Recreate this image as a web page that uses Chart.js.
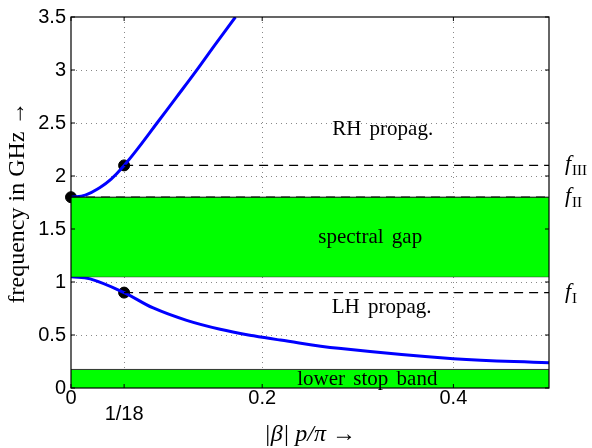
<!DOCTYPE html>
<html>
<head>
<meta charset="utf-8">
<script src="https://cdn.jsdelivr.net/npm/chart.js@4.4.1/dist/chart.umd.min.js"></script>
<style>
  html, body { margin: 0; padding: 0; background: #fff; }
  #wrap { width: 592px; height: 448px; }
</style>
</head>
<body>
<div id="wrap"><canvas id="chart" width="592" height="448"></canvas></div>
<script>
// dispersion curves
const rhX = [0, 0.015, 0.03, 0.042, 0.0556, 0.07, 0.09, 0.11, 0.13, 0.15, 0.172];
const rhY = [1.8, 1.82, 1.89, 1.97, 2.1, 2.26, 2.5, 2.74, 2.98, 3.23, 3.5];
const lhX = [0, 0.02, 0.0556, 0.086, 0.121, 0.156, 0.191, 0.219, 0.28, 0.4, 0.5];
const lhY = [1.05, 1.03, 0.9, 0.755, 0.638, 0.554, 0.492, 0.452, 0.374, 0.276, 0.238];

// bands and marker frequencies (GHz)
const stopBandTop = 0.175;
const gapLow = 1.05;
const gapHigh = 1.8;
const fI = 0.9, fII = 1.8, fIII = 2.1;
const betaMark = 1 / 18;
const markX = [0, betaMark, betaMark];
const markY = [fII, fIII, fI];

const xTicks = [0, betaMark, 0.2, 0.4];
const yTicks = [0, 0.5, 1, 1.5, 2, 2.5, 3, 3.5];

const labels = [
  { text: 'RH propag.', x: 0.326, y: 2.44 },
  { text: 'spectral gap', x: 0.313, y: 1.42 },
  { text: 'LH propag.', x: 0.325, y: 0.76 },
  { text: 'lower stop band', x: 0.31, y: 0.084 }
];
const fLabels = [
  { sub: 'III', y: fIII },
  { sub: 'II', y: fII },
  { sub: 'I', y: fI }
];

const pts = (xs, ys) => xs.map((x, i) => ({ x: x, y: ys[i] }));
const hline = (x0, x1, y) => [{ x: x0, y: y }, { x: x1, y: y }];
const green = '#00ff00';
const serif = "'Liberation Serif', 'DejaVu Serif', serif";
const sans = "'Liberation Sans', Arial, sans-serif";

const overlay = {
  id: 'overlay',
  afterDatasetsDraw(chart) {
    const { ctx, chartArea: a, scales: { x, y } } = chart;
    ctx.save();
    // frame
    ctx.strokeStyle = '#000';
    ctx.lineWidth = 1.2;
    ctx.strokeRect(a.left, a.top, a.right - a.left, a.bottom - a.top);
    // inward ticks
    ctx.lineWidth = 1;
    ctx.beginPath();
    yTicks.forEach(v => {
      const py = y.getPixelForValue(v);
      ctx.moveTo(a.left, py); ctx.lineTo(a.left + 4, py);
      ctx.moveTo(a.right, py); ctx.lineTo(a.right - 4, py);
    });
    xTicks.forEach(v => {
      const px = x.getPixelForValue(v);
      ctx.moveTo(px, a.bottom); ctx.lineTo(px, a.bottom - 4);
      ctx.moveTo(px, a.top); ctx.lineTo(px, a.top + 4);
    });
    ctx.stroke();
    // region labels
    ctx.fillStyle = '#000';
    ctx.font = '21px ' + serif;
    ctx.wordSpacing = '3px';
    ctx.textAlign = 'center';
    ctx.textBaseline = 'middle';
    labels.forEach(l => {
      ctx.fillText(l.text, x.getPixelForValue(l.x), y.getPixelForValue(l.y));
    });
    ctx.wordSpacing = '0px';
    // f labels right of the frame
    ctx.textAlign = 'left';
    ctx.textBaseline = 'alphabetic';
    fLabels.forEach(l => {
      const py = y.getPixelForValue(l.y) + 5;
      const px = a.right + 16;
      ctx.font = 'italic 22px ' + serif;
      ctx.fillText('f', px, py);
      const w = ctx.measureText('f').width;
      ctx.font = '15px ' + serif;
      ctx.fillText(l.sub, px + w + 1, py + 5);
    });
    ctx.restore();
  }
};

new Chart(document.getElementById('chart'), {
  type: 'scatter',
  data: {
    datasets: [
      { data: hline(0, 0.5, gapHigh), showLine: true, fill: '+1', backgroundColor: green,
        borderColor: '#000', borderWidth: 1, pointRadius: 0 },
      { data: hline(0, 0.5, gapLow), showLine: true, fill: false,
        borderColor: '#000', borderWidth: 1, pointRadius: 0 },
      { data: hline(0, 0.5, stopBandTop), showLine: true, fill: 'origin', backgroundColor: green,
        borderColor: '#333', borderWidth: 1, pointRadius: 0 },
      { data: hline(0, 0.5, fII), showLine: true, borderColor: '#000', borderWidth: 1.3,
        borderDash: [9, 6], pointRadius: 0 },
      { data: hline(betaMark, 0.5, fIII), showLine: true, borderColor: '#000', borderWidth: 1.3,
        borderDash: [9, 6], pointRadius: 0 },
      { data: hline(betaMark, 0.5, fI), showLine: true, borderColor: '#000', borderWidth: 1.3,
        borderDash: [9, 6], pointRadius: 0 },
      { data: pts(rhX, rhY), showLine: true, borderColor: '#0000ff', borderWidth: 3,
        tension: 0.4, pointRadius: 0 },
      { data: pts(lhX, lhY), showLine: true, borderColor: '#0000ff', borderWidth: 3,
        tension: 0.4, pointRadius: 0 },
      { data: pts(markX, markY), showLine: false, backgroundColor: '#000', borderColor: '#000',
        pointRadius: 5.5, clip: false }
    ]
  },
  options: {
    responsive: false,
    animation: false,
    events: [],
    layout: { padding: { left: 0, right: 43, top: 11, bottom: 0 } },
    plugins: { legend: { display: false }, tooltip: { enabled: false } },
    scales: {
      x: {
        type: 'linear', min: 0, max: 0.5,
        afterBuildTicks: s => { s.ticks = xTicks.map(v => ({ value: v })); },
        afterFit: s => { s.height = 60; },
        ticks: {
          autoSkip: false, maxRotation: 0, padding: 2, color: '#000',
          font: { family: sans, size: 20, lineHeight: 0.8 },
          callback: v => v === 0 ? '0' : (Math.abs(v - betaMark) < 1e-9 ? ['', '1/18'] : String(v))
        },
        grid: {
          drawTicks: false, lineWidth: 1,
          color: c => (c.tick && c.tick.value === 0) ? 'rgba(0,0,0,0)' : '#888'
        },
        border: { display: false, dash: [1, 4] },
        title: {
          display: true, text: '|β| p/π →', color: '#000',
          font: { family: serif, size: 24, style: 'italic', lineHeight: 1 },
          padding: { top: 0, bottom: 1 }
        }
      },
      y: {
        type: 'linear', min: 0, max: 3.5,
        afterBuildTicks: s => { s.ticks = yTicks.map(v => ({ value: v })); },
        afterFit: s => { s.width = 71; },
        ticks: {
          padding: 5, color: '#000',
          font: { family: sans, size: 20 },
          callback: v => String(v)
        },
        grid: {
          drawTicks: false, lineWidth: 1,
          color: c => (c.tick && (c.tick.value === 0 || c.tick.value === 3.5)) ? 'rgba(0,0,0,0)' : '#888'
        },
        border: { display: false, dash: [1, 4] },
        title: {
          display: true, text: 'frequency in GHz →', color: '#000',
          font: { family: serif, size: 24, lineHeight: 1 },
          padding: { top: 6, bottom: 0 }
        }
      }
    }
  },
  plugins: [overlay]
});
</script>
</body>
</html>
